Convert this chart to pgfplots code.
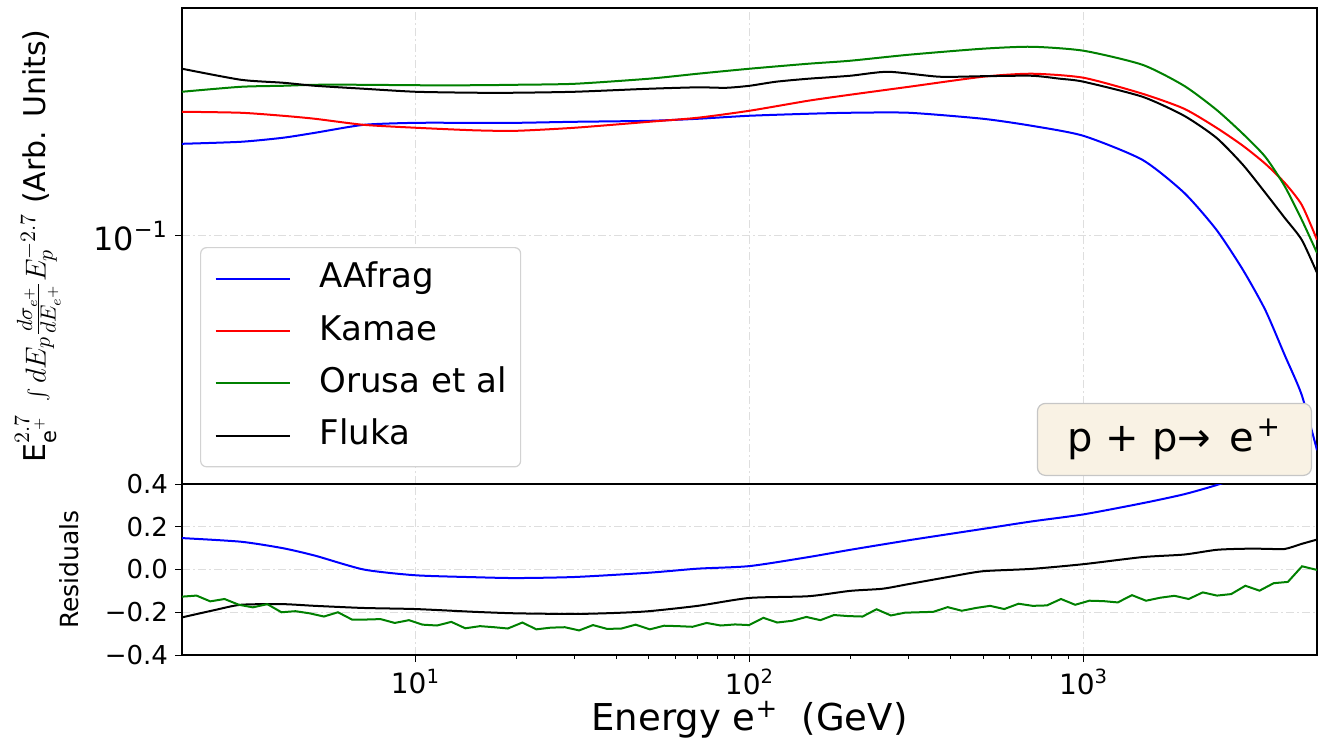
\documentclass[border=0pt]{standalone}
\usepackage{fontspec}
\setmainfont{DejaVu Sans}
\usepackage{pgfplots}
\pgfplotsset{compat=1.18}
\definecolor{mplgreen}{RGB}{0,128,0}
\definecolor{boxfill}{RGB}{249,242,228}
\definecolor{gridc}{RGB}{222,222,222}
\begin{document}
\begin{tikzpicture}
\path[use as bounding box] (-91pt,4pt) rectangle (572.5pt,-368pt);
\begin{axis}[name=top, at={(0pt,0pt)}, anchor=north west,
  scale only axis, width=567.5pt, height=238pt,
  xmode=log, xmin=2, xmax=5000, xtick={10,100,1000}, xticklabels={},
  ymode=log, ymin=0.025, ymax=0.357, ytick={0.1}, yticklabels={10\textsuperscript{−1}},
  axis line style={black, line width=0.6pt},
  tick pos=left, tick align=outside,
  major tick length=3.5pt, minor tick length=0pt,
  x tick style={draw=none},
  y tick style={black, line width=0.5pt},
  grid=major,
  major grid style={gridc, line width=0.6pt, dash pattern=on 4pt off 1.5pt on 1pt off 1.5pt},
  yticklabel style={font=\fontsize{16}{19}\selectfont},
  ylabel={$\mathrm{E}^{2.7}_{\mathrm{e}^{+}}\;\int dE_p \frac{d\sigma_{e^+}}{dE_{e^+}} E_p^{-2.7}$ (Arb. Units)},
  ylabel style={at={(axis description cs:-0.127,0.5)}, anchor=center, font=\fontsize{15}{18}\selectfont},
  legend image code/.code={\draw[#1, line width=1pt] (0pt,0pt) -- (37pt,0pt);},
  legend cell align=left,
  legend style={at={(axis description cs:0.0159,0.4979)}, anchor=north west,
    draw=gray!35, line width=0.6pt, rounded corners=3pt, fill=white,
    font=\fontsize{17}{20}\selectfont, inner xsep=7pt, inner ysep=7.5pt, row sep=10.2pt,
    nodes={inner sep=0pt, text height=12.5pt, text depth=3.5pt}},
]
\addplot[blue, line width=1pt, smooth, tension=0.4] coordinates {
(2,0.1672) (3,0.1691) (4,0.1729) (5,0.1778) (7,0.1859) (10,0.1880) (15,0.1880) (20,0.1880)
(30,0.1891) (50,0.1901) (70,0.1923) (100,0.1956) (150,0.1978) (200,0.1989) (300,0.1989)
(500,0.1923) (700,0.1849) (1000,0.1748) (1500,0.1529) (2000,0.1272) (2500,0.1034)
(3000,0.0827) (3500,0.0661) (4000,0.0514) (4500,0.0411) (5000,0.0302)};
\addlegendentry{\hspace*{14.5pt}AAfrag}
\addplot[red, line width=1pt, smooth, tension=0.4] coordinates {
(2,0.2000) (3,0.1989) (4,0.1956) (5,0.1923) (7,0.1859) (10,0.1829) (15,0.1803) (20,0.1798)
(30,0.1829) (50,0.1891) (70,0.1934) (100,0.2011) (150,0.2127) (200,0.2199) (300,0.2299)
(500,0.2432) (700,0.2473) (1000,0.2418) (1500,0.2212) (2000,0.2034) (2500,0.1829)
(3000,0.1654) (3500,0.1496) (4000,0.1345) (4500,0.1189) (5000,0.0978)};
\addlegendentry{\hspace*{14.5pt}Kamae}
\addplot[mplgreen, line width=1pt, smooth, tension=0.4] coordinates {
(2,0.2236) (3,0.2299) (4,0.2312) (5,0.2325) (7,0.2325) (10,0.2319) (15,0.2319) (20,0.2325)
(30,0.2338) (50,0.2405) (70,0.2473) (100,0.2543) (150,0.2615) (200,0.2659) (300,0.2750)
(500,0.2844) (700,0.2875) (1000,0.2812) (1500,0.2600) (2000,0.2312) (2500,0.2022)
(3000,0.1768) (3500,0.1555) (4000,0.1320) (4500,0.1094) (5000,0.0909)};
\addlegendentry{\hspace*{14.5pt}Orusa et al}
\addplot[black, line width=1pt, smooth, tension=0.4] coordinates {
(2,0.2543) (3,0.2391) (4,0.2352) (5,0.2312) (7,0.2274) (10,0.2236) (15,0.2224) (20,0.2224)
(30,0.2236) (50,0.2274) (70,0.2292) (85,0.2286) (100,0.2312) (120,0.2365) (150,0.2405)
(200,0.2445) (260,0.2500) (370,0.2432) (500,0.2439) (700,0.2445) (850,0.2405) (1000,0.2365)
(1500,0.2175) (2000,0.1956) (2500,0.1729) (3000,0.1487) (3500,0.1272) (4000,0.1106)
(4500,0.0978) (5000,0.0813)};
\addlegendentry{\hspace*{14.5pt}Fluka}
\node[draw=gray!45, line width=0.6pt, fill=boxfill, rounded corners=4pt, anchor=south east,
  minimum width=137pt, minimum height=36pt, inner sep=0pt,
  font=\fontsize{20}{24}\selectfont]
  at (axis description cs:0.9956,0.0168) {p + p→\hspace{0.45em}e\textsuperscript{\hspace{0.1em}+}};
\end{axis}
\begin{axis}[at={(0pt,-238pt)}, anchor=north west,
  scale only axis, width=567.5pt, height=85.5pt,
  xmode=log, xmin=2, xmax=5000, xtick={10,100,1000},
  xticklabels={10\textsuperscript{1},10\textsuperscript{2},10\textsuperscript{3}},
  ymin=-0.4, ymax=0.4, ytick={-0.4,-0.2,0,0.2,0.4},
  yticklabels={−0.4,−0.2,0.0,0.2,0.4},
  axis line style={black, line width=0.6pt},
  tick pos=left, tick align=outside,
  major tick length=3.5pt, minor tick length=2pt,
  tick style={black, line width=0.5pt},
  grid=major,
  major grid style={gridc, line width=0.6pt, dash pattern=on 4pt off 1.5pt on 1pt off 1.5pt},
  yticklabel style={font=\fontsize{13}{16}\selectfont},
  xticklabel style={font=\fontsize{14}{17}\selectfont},
  ylabel={Residuals},
  ylabel style={at={(axis description cs:-0.0996,0.5)}, anchor=center, font=\fontsize{12.5}{15}\selectfont},
  xlabel={Energy e\textsuperscript{+}\ \ (GeV)},
  xlabel style={at={(axis description cs:0.5,-0.378)}, anchor=center, font=\fontsize{18.5}{22}\selectfont},
]
\addplot[blue, line width=1pt, smooth, tension=0.4] coordinates {
(2,0.147) (3,0.130) (4,0.100) (5,0.065) (7,0.000) (10,-0.027) (15,-0.036) (20,-0.040)
(30,-0.035) (50,-0.015) (70,0.004) (100,0.016) (150,0.058) (200,0.092) (300,0.137)
(500,0.190) (700,0.225) (1000,0.258) (1500,0.310) (2000,0.352) (2500,0.395) (3000,0.440)
(4000,0.550) (5000,0.700)};
\addplot[black, line width=1pt, smooth, tension=0.4] coordinates {
(2,-0.224) (2.5,-0.190) (3,-0.165) (4,-0.162) (5,-0.170) (7,-0.180) (10,-0.185) (15,-0.198)
(20,-0.205) (30,-0.208) (40,-0.203) (50,-0.195) (70,-0.170) (100,-0.133) (150,-0.125)
(200,-0.100) (250,-0.090) (300,-0.068) (400,-0.033) (500,-0.008) (700,0.003) (1000,0.025)
(1500,0.058) (2000,0.070) (2500,0.092) (3000,0.097) (3500,0.097) (4000,0.096) (4500,0.120)
(5000,0.140)};
\addplot[mplgreen, line width=1pt] coordinates {
(2,-0.127) (2.21,-0.122) (2.43,-0.149) (2.68,-0.138) (2.96,-0.165) (3.26,-0.177) (3.60,-0.162)
(3.97,-0.200) (4.37,-0.195) (4.82,-0.205) (5.32,-0.220) (5.86,-0.200) (6.47,-0.235) (7.13,-0.234)
(7.86,-0.232) (8.67,-0.250) (9.56,-0.237) (10.5,-0.258) (11.6,-0.262) (12.8,-0.245) (14.1,-0.275)
(15.6,-0.265) (17.2,-0.270) (18.9,-0.276) (20.9,-0.248) (23.0,-0.280) (25.4,-0.272) (28.0,-0.270)
(30.9,-0.285) (34.0,-0.260) (37.5,-0.278) (41.4,-0.276) (45.6,-0.258) (50.3,-0.280) (55.5,-0.263)
(61.2,-0.265) (67.5,-0.268) (74.4,-0.250) (82.0,-0.262) (90.5,-0.257) (99.7,-0.260) (110,-0.226)
(121,-0.248) (134,-0.240) (148,-0.222) (163,-0.237) (179,-0.213) (198,-0.218) (218,-0.220)
(240,-0.186) (265,-0.215) (292,-0.202) (322,-0.200) (355,-0.198) (392,-0.176) (432,-0.193)
(476,-0.180) (525,-0.170) (579,-0.185) (639,-0.160) (704,-0.170) (777,-0.168) (856,-0.138)
(944,-0.165) (1041,-0.146) (1148,-0.148) (1266,-0.154) (1396,-0.120) (1539,-0.146) (1697,-0.132)
(1871,-0.123) (2064,-0.138) (2275,-0.107) (2509,-0.122) (2767,-0.115) (3051,-0.076) (3364,-0.099)
(3709,-0.064) (4090,-0.058) (4510,0.015) (5000,-0.002)};
\end{axis}
\end{tikzpicture}
\end{document}
